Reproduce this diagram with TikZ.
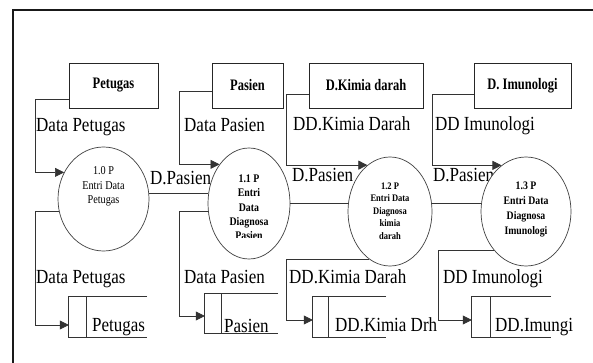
\documentclass[tikz,border=0pt]{standalone}
\usepackage{fontspec}
\setmainfont{Liberation Serif}
\newfontfamily\nar[FakeStretch=0.85]{Liberation Serif}
\newfontfamily\narb[FakeStretch=0.78]{Liberation Serif}
\usetikzlibrary{shapes.geometric,arrows.meta}
\begin{document}
\begin{tikzpicture}[x=1pt,y=-1pt,
 lab/.style={font=\nar\fontsize{20}{22}\selectfont, inner sep=0pt, anchor=base west},
 ent/.style={draw=black!85, line width=0.8pt, font=\narb\bfseries\fontsize{16}{18}\selectfont, inner sep=0pt, minimum height=45pt},
 proc/.style={ellipse, draw=black!75, line width=0.7pt, fill=white, inner sep=0pt},
 ptext/.style={align=center, inner sep=0pt},
 flow/.style={draw=black!80, line width=0.7pt},
 arr/.style={flow, -{Triangle[length=9pt,width=9pt]}},
 store/.style={inner sep=0pt},
 frame/.style={line width=2pt, draw=black!90}]
\fill[white] (0,0) rectangle (593,363);
\useasboundingbox (0,0) rectangle (593,363);
\draw[frame] (13,363) -- (13,10) -- (593,10);

% external entities
\node[ent, minimum width=89pt] (pet) at (113.5,85.5) {Petugas};
\node[ent, minimum width=71pt] (pas) at (247.5,85.5) {Pasien};
\node[ent, minimum width=114pt] (kim) at (366,85.5) {D.Kimia darah};
\node[ent, minimum width=97pt] (imu) at (522.5,85.5) {D. Imunologi};

% flow labels
\node[lab] (l1) at (36,131.5) {Data Petugas};
\node[lab] (l2) at (184,131.5) {Data Pasien};
\node[lab] (l3) at (293,131) {DD.Kimia Darah};
\node[lab] (l4) at (435,131) {DD Imunologi};
\node[lab] (d1) at (150,184.5) {D.Pasien};
\node[lab] (d2) at (292,182) {D.Pasien};
\node[lab] (d3) at (433,182) {D.Pasien};
\node[lab] (b1) at (36,283.5) {Data Petugas};
\node[lab] (b2) at (184,283.5) {Data Pasien};
\node[lab] (b3) at (289,283) {DD.Kimia Darah};
\node[lab] (b4) at (443,283) {DD Imunologi};

% processes
\node[proc, minimum width=91pt, minimum height=104pt] (p10) at (103.5,199) {};
\node[proc, minimum width=82pt, minimum height=111pt] (p11) at (249,203.5) {};
\node[proc, minimum width=84pt, minimum height=109pt] (p12) at (390,211.5) {};
\node[proc, minimum width=90pt, minimum height=109pt] (p13) at (526,211.5) {};

\node[ptext, font=\nar\fontsize{12}{14.5}\selectfont] (p10t) at (103.5,186.5) {1.0 P\\Entri Data\\Petugas};
\begin{scope}
\clip (200,150) rectangle (300,237.5);
\node[ptext, font=\nar\bfseries\fontsize{11.6}{14.3}\selectfont] (p11t) at (249,207.5) {1.1 P\\Entri\\Data\\Diagnosa\\Pasien};
\end{scope}
\node[ptext, font=\nar\bfseries\fontsize{10}{12.5}\selectfont] (p12t) at (390,211) {1.2 P\\Entri Data\\Diagnosa\\kimia\\darah};
\node[ptext, font=\nar\bfseries\fontsize{11.5}{15.3}\selectfont] (p13t) at (526,209.5) {1.3 P\\Entri Data\\Diagnosa\\Imunologi};

% data stores
\node[store, minimum width=78pt, minimum height=40pt] (s1) at (108,317) {};
\draw[flow] (s1.north east) -- (s1.north west) -- (s1.south west) -- (s1.south east);
\draw[flow] ([xshift=18pt]s1.north west) -- ([xshift=18pt]s1.south west);
\node[store, minimum width=73pt, minimum height=39pt] (s2) at (241.5,313.5) {};
\draw[flow] (s2.north east) -- (s2.north west) -- (s2.south west) -- (s2.south east);
\draw[flow] ([xshift=17pt]s2.north west) -- ([xshift=17pt]s2.south west);
\node[store, minimum width=73pt, minimum height=40pt] (s3) at (349.5,317) {};
\draw[flow] (s3.north east) -- (s3.north west) -- (s3.south west) -- (s3.south east);
\draw[flow] ([xshift=16pt]s3.north west) -- ([xshift=16pt]s3.south west);
\node[store, minimum width=79pt, minimum height=40pt] (s4) at (511.5,317) {};
\draw[flow] (s4.north east) -- (s4.north west) -- (s4.south west) -- (s4.south east);
\draw[flow] ([xshift=19pt]s4.north west) -- ([xshift=19pt]s4.south west);

\node[lab] (s1t) at (92,331.5) {Petugas};
\node[lab] (s2t) at (224,332.5) {Pasien};
\node[lab] (s3t) at (335,331.7) {DD.Kimia Drh};
\node[lab] (s4t) at (495,331.7) {DD.Imungi};

% incoming flows
\draw[arr] ([yshift=-13.5pt]pet.west) -- ++(-33,0) |- (p10.146.6);
\draw[arr] ([yshift=-5.5pt]pas.west) -- ++(-32,0) |- (p11.127.5);
\draw[arr] ([yshift=-8.5pt]kim.west) -- ++(-22,0) |- (p12.116.9);
\draw[arr] ([yshift=-8.5pt]imu.west) -- ++(-41,0) |- (p13.118.6);

% outgoing flows
\draw[arr] (p10.196.4) -- ++(-23.5,0) |- ([yshift=-8pt]s1.west);
\draw[arr] (p11.191.9) -- ++(-28.5,0) |- ([yshift=-2.5pt]s2.west);
\draw[arr] (p12.246.6) -- ++(-82.4,0) |- ([yshift=-3pt]s3.west);
\draw[arr] (p13.230.4) -- ++(-55,0) |- ([yshift=-3pt]s4.west);

% process links
\coordinate (y1) at (0,193);
\coordinate (y2) at (0,203);
\draw[flow] (p10.east |- y1) -- (p11.west |- y1);
\draw[flow] (p11.east |- y2) -- (p12.west |- y2);
\draw[flow] (p12.east |- y2) -- (p13.west |- y2);
\end{tikzpicture}
\end{document}
